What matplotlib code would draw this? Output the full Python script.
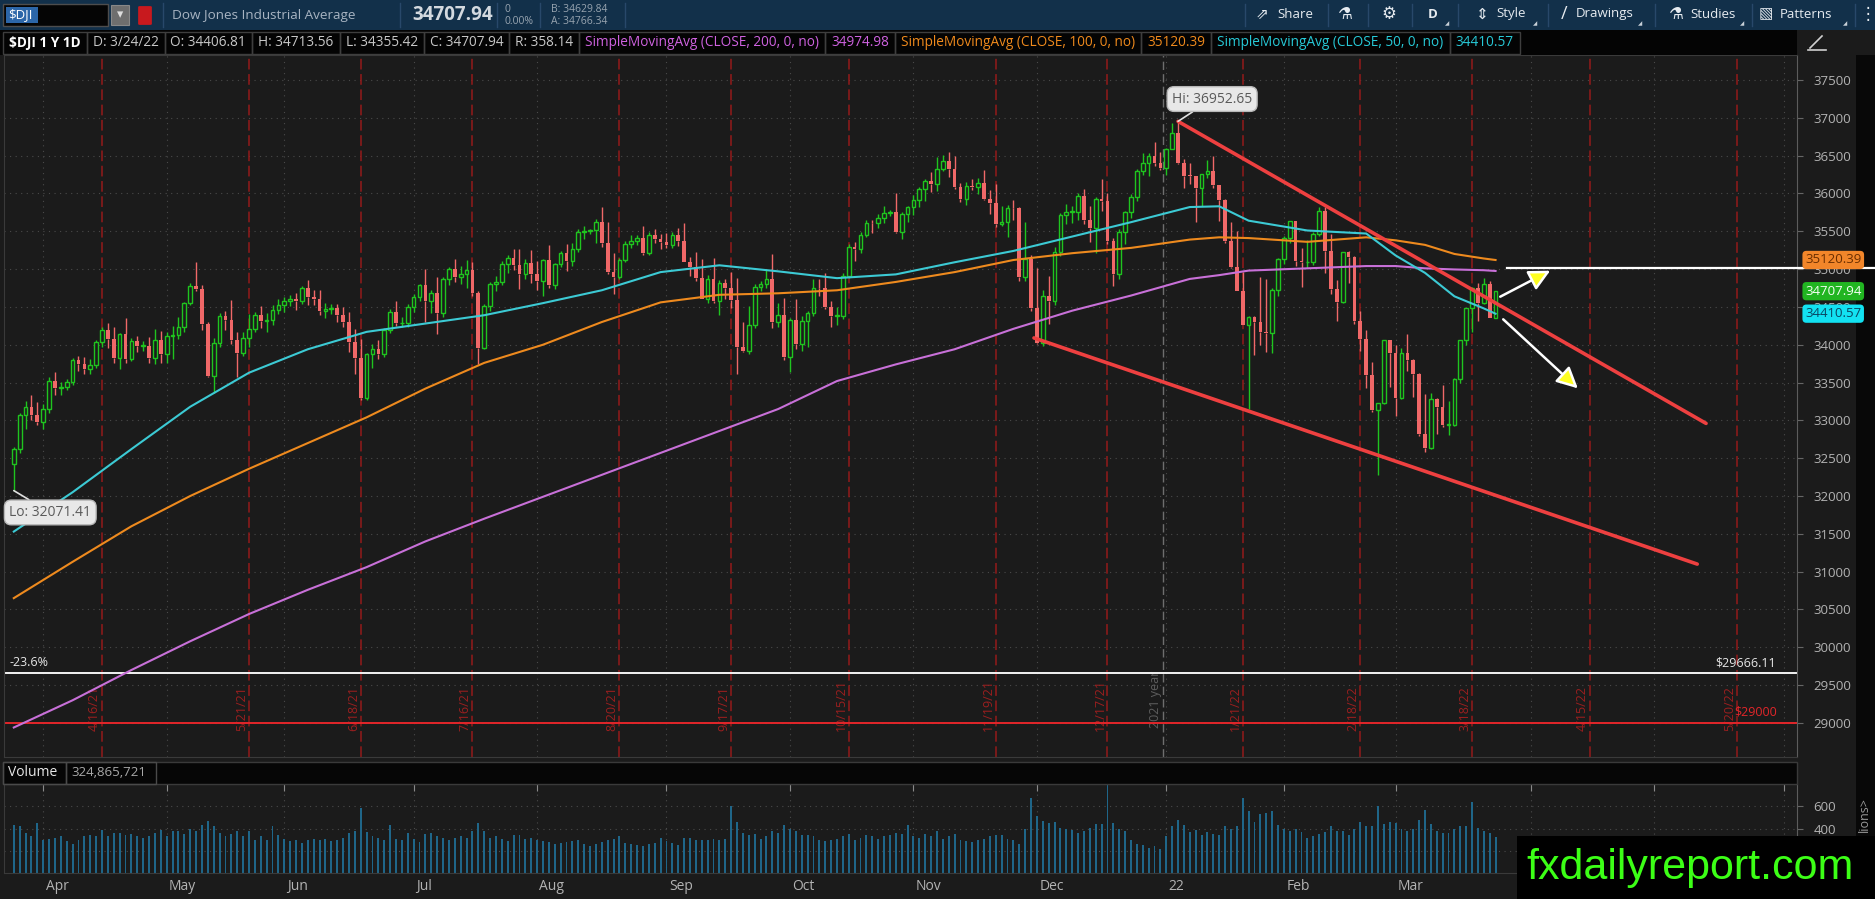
import numpy as np
import pandas as pd
import matplotlib
matplotlib.use("Agg")
import matplotlib.pyplot as plt
from matplotlib.patches import Rectangle, FancyBboxPatch
from matplotlib.lines import Line2D

plt.rcParams['font.family'] = ['Open Sans', 'DejaVu Sans']

# ---------------- data ----------------
# NYSE closures inside the window (future days are kept, like the platform does)
holidays = ['2021-04-02', '2021-05-31', '2021-07-05', '2021-09-06',
            '2021-11-25', '2021-12-24', '2022-01-17', '2022-02-21']

prev_close = 32420.06  # 3/24/21 close, used as open of the first bar

# daily closes 3/25/21 .. 3/24/22
closes = [
    32619, 33073, 33171, 33067, 32982,  # Mar
    33153, 33527, 33430, 33446, 33504, 33801, 33745, 33677, 33731, 34036, 34201,
    34078, 33821, 34137, 33816, 34043, 33982, 33985, 33820, 34060, 33875,  # Apr
    34113, 34133, 34230, 34549, 34778, 34743, 34269, 33588, 34021, 34382,
    34328, 34061, 33896, 34084, 34208, 34394, 34312, 34323, 34465, 34529,  # May
    34575, 34600, 34577, 34756, 34630, 34600, 34447, 34466, 34480, 34394, 34299,
    34034, 33823, 33290, 33877, 33946, 33874, 34197, 34434, 34283, 34292, 34503,  # Jun
    34634, 34786, 34577, 34682, 34422, 34870, 34996, 34889, 34933, 34987, 34688,
    33962, 34512, 34798, 34823, 35062, 35144, 35059, 34931, 35085, 34935,  # Jul
    34838, 35116, 34793, 35064, 35209, 35102, 35265, 35485, 35500, 35515, 35625,
    35343, 34961, 34894, 35120, 35336, 35366, 35406, 35213, 35456, 35400, 35361,  # Aug
    35313, 35444, 35369, 35100, 35031, 34879, 34608, 34870, 34578, 34814, 34751,
    34585, 33970, 33920, 34258, 34765, 34798, 34869, 34300, 34391, 33844,  # Sep
    34326, 34003, 34315, 34417, 34755, 34746, 34496, 34378, 34378, 34913, 35295,
    35259, 35457, 35609, 35603, 35677, 35741, 35757, 35491, 35730, 35820,  # Oct
    35914, 36053, 36158, 36124, 36328, 36432, 36320, 36080, 35921, 36100, 36087,
    36142, 35931, 35871, 35602, 35619, 35814, 35804, 34899, 35136, 34484,  # Nov
    34022, 34640, 34580, 35227, 35719, 35754, 35755, 35971, 35651, 35544, 35927,
    35898, 35365, 34932, 35493, 35754, 35951, 36302, 36398, 36489, 36398, 36338,  # Dec
    36585, 36800, 36407, 36236, 36232, 36069, 36252, 36290, 36114, 35912,
    35368, 35029, 34715, 34265, 34365, 34298, 34168, 34161, 34725, 35132,  # Jan
    35405, 35629, 35111, 35090, 35091, 35463, 35768, 35242, 34738, 34566,
    35229, 35161, 34312, 34079, 33597, 33132, 33224, 34059, 33893,  # Feb
    33295, 33891, 33795, 33615, 32817, 32633, 33286, 33174, 32944,
    32945, 33544, 34063, 34481, 34755, 34553, 34807, 34359, 34708,  # Mar
]

# upper / lower shadow lengths in points
wick_up = [
    30, 25, 90, 160, 170,
    60, 40, 110, 60, 40, 20, 50, 90, 80, 30, 30, 90, 150, 20, 210, 40, 70, 70, 120, 150, 120,
    50, 110, 130, 20, 40, 310, 50, 30, 70, 40, 60, 260, 110, 80, 200, 40, 120, 90, 60, 80,
    60, 60, 90, 20, 100, 90, 130, 80, 60, 60, 110, 130, 180, 250, 20, 60, 110, 30, 40, 140, 80, 30,
    30, 20, 220, 40, 210, 30, 30, 140, 110, 130, 100, 20, 30, 30, 90, 40, 40, 120, 200, 50, 170,
    170, 20, 200, 20, 30, 120, 80, 40, 70, 20, 40, 200, 280, 250, 30, 40, 90, 40, 160, 30, 80, 60,
    120, 40, 100, 240, 60, 200, 250, 50, 280, 40, 60, 210, 300, 330, 250, 40, 40, 130, 330, 160, 230,
    30, 280, 60, 30, 110, 110, 200, 80, 120, 30, 30, 60, 30, 40, 40, 50, 90, 30, 250, 30, 20,
    60, 30, 30, 130, 160, 80, 120, 170, 60, 50, 90, 60, 170, 110, 250, 210, 30, 100, 20, 480, 50,
    530, 80, 270, 60, 20, 100, 80, 30, 90, 180, 20, 260, 110, 40, 40, 20, 40, 20, 130, 50, 190, 150,
    11, 134, 153, 53, 164, 0, 4, 155, 210, 0, 20, 257, 475, 245, 13, 10, 595, 704, 30, 10,
    28, 9, 0, 173, 289, 32, 56, 55, 217, 116, 1, 15, 9, 137, 111, 173, 7, 4, 10,
    100, 72, 253, 13, 10, 527, 70, 13, 300, 316, 17, 1, 7, 5, 60, 76, 30, 6,
]
wick_dn = [
    349, 50, 190, 60, 40,
    90, 60, 90, 100, 50, 30, 90, 70, 60, 40, 60, 120, 60, 140, 60, 30, 80, 60, 60, 80, 110,
    120, 300, 60, 60, 30, 30, 70, 20, 230, 50, 130, 50, 320, 40, 110, 40, 90, 140, 60, 60,
    90, 60, 120, 40, 110, 80, 60, 90, 60, 100, 60, 130, 210, 20, 20, 180, 60, 40, 40, 30, 50, 60,
    70, 60, 280, 160, 280, 60, 80, 60, 90, 180, 40, 220, 20, 60, 90, 40, 120, 70, 200, 60, 120,
    110, 200, 40, 60, 40, 130, 60, 40, 90, 30, 170, 50, 20, 220, 20, 30, 60, 50, 30, 30, 60, 90,
    40, 40, 70, 10, 120, 30, 10, 60, 20, 180, 150, 100, 360, 20, 40, 40, 60, 50, 80, 60, 40,
    200, 60, 80, 340, 40, 100, 20, 150, 120, 40, 30, 150, 40, 30, 120, 60, 70, 40, 10, 90, 110,
    100, 90, 150, 110, 90, 30, 100, 20, 40, 80, 40, 90, 20, 140, 50, 30, 190, 160, 60, 60, 40,
    16, 40, 300, 60, 50, 120, 150, 110, 50, 190, 330, 130, 40, 160, 60, 160, 80, 50, 60, 170, 30, 30,
    92, 0, 13, 161, 104, 452, 229, 48, 40, 279, 17, 10, 10, 5, 1115, 438, 168, 254, 274, 75,
    71, 65, 68, 331, 73, 41, 20, 289, 61, 250, 20, 345, 43, 158, 165, 15, 860, 10, 450,
    239, 10, 142, 303, 22, 55, 10, 351, 36, 137, 20, 46, 63, 313, 235, 20, 5, 3,
]

# daily volume, millions
volume_m = [
    430, 420, 360, 330, 450,
    300, 310, 320, 330, 290, 260, 300, 330, 340, 330, 390, 330, 360, 360, 340, 350, 330, 320, 330, 360, 390,
    330, 380, 380, 350, 400, 380, 430, 470, 420, 360, 330, 350, 380, 330, 380, 300, 330, 300, 420, 340,
    310, 290, 300, 270, 300, 310, 300, 310, 290, 300, 320, 360, 380, 590, 370, 330, 320, 300, 430, 310, 300, 360,
    310, 280, 350, 360, 330, 320, 300, 320, 330, 320, 380, 450, 380, 320, 330, 310, 290, 340, 340, 310, 320,
    300, 290, 280, 260, 270, 280, 290, 300, 260, 240, 260, 280, 300, 310, 330, 270, 260, 250, 240, 260, 270, 320,
    290, 270, 250, 320, 320, 300, 300, 300, 310, 300, 310, 600, 460, 360, 340, 350, 310, 330, 380, 360, 430,
    400, 380, 340, 340, 330, 300, 290, 300, 310, 330, 350, 300, 320, 340, 330, 310, 330, 340, 360, 350, 430,
    330, 320, 350, 330, 380, 310, 330, 350, 300, 290, 280, 300, 310, 330, 340, 340, 310, 300, 260, 400, 680,
    510, 470, 450, 460, 410, 400, 390, 360, 380, 410, 440, 440, 790, 450, 400, 380, 300, 260, 250, 230, 240, 220,
    330, 420, 480, 430, 370, 390, 340, 370, 350, 340, 420, 400, 420, 680, 560, 460, 530, 540, 560, 430,
    400, 380, 400, 370, 320, 330, 350, 370, 420, 380, 380, 340, 400, 460, 420, 420, 606, 440, 460,
    450, 400, 380, 400, 480, 570, 440, 380, 360, 360, 400, 420, 420, 640, 410, 380, 360, 325,
]

# moving averages read at these bar numbers
ma_idx = [0, 10, 20, 30, 40, 50, 60, 70, 80, 90, 100, 110, 120, 130, 140, 150,
          160, 170, 180, 190, 200, 205, 210, 220, 230, 235, 240, 245, 250, 252]
sma50 = [31530, 32050, 32620, 33180, 33630, 33940, 34170, 34280, 34390, 34550,
         34720, 34960, 35050, 34970, 34880, 34930, 35090, 35240, 35430, 35620,
         35820, 35830, 35640, 35510, 35470, 35180, 34950, 34640, 34480, 34410]
sma100 = [30650, 31130, 31600, 32000, 32360, 32700, 33040, 33420, 33760, 34000,
          34300, 34560, 34660, 34680, 34720, 34830, 34960, 35120, 35210, 35280,
          35390, 35420, 35410, 35360, 35420, 35380, 35320, 35200, 35140, 35120]
sma200 = [28940, 29300, 29700, 30080, 30440, 30760, 31060, 31400, 31700, 31990,
          32280, 32570, 32860, 33150, 33520, 33740, 33940, 34210, 34450, 34650,
          34870, 34920, 34980, 35010, 35040, 35040, 35010, 34995, 34985, 34975]

expiries = ['2021-04-16', '2021-05-21', '2021-06-18', '2021-07-16', '2021-08-20',
            '2021-09-17', '2021-10-15', '2021-11-19', '2021-12-17', '2022-01-21',
            '2022-02-18', '2022-03-18', '2022-04-15', '2022-05-20']
expiry_labels = ['4/16/21', '5/21/21', '6/18/21', '7/16/21', '8/20/21', '9/17/21',
                 '10/15/21', '11/19/21', '12/17/21', '1/21/22', '2/18/22', '3/18/22',
                 '4/15/22', '5/20/22']
month_names = ['Apr', 'May', 'Jun', 'Jul', 'Aug', 'Sep', 'Oct', 'Nov', 'Dec', '22', 'Feb', 'Mar']

price_ticks = list(range(29000, 38000, 500))
vol_ticks = [200, 400, 600]
vol_tick_labels = ['', '400', '600']  # 200 sits under the watermark

hi_price, hi_bar = 36952.65, 198
lo_price, lo_bar = 32071.41, 0
fib_level = 29666.11
support = 29000
resistance = 35010
upper_trend_x, upper_trend_y = [198, 287.8], [36952.65, 32960]
lower_trend_x, lower_trend_y = [173.5, 286.3], [34090, 31100]
arrow_from = [(252.8, 34635), (253.3, 34336)]
arrow_to = [(261.3, 34979), (266.0, 33423)]
tags = [(35120.39, '#f2862a', '#6a2e00'), (34707.94, '#21b521', '#f4fff4'), (34410.57, '#12e2f2', '#0a4560')]

# ---------------- look ----------------
W, H = 1875, 899
BG = '#1b1b1b'
GREEN = '#1fc41f'
RED = '#f06868'
MAGENTA = '#c870d8'
ORANGE = '#ee8a1e'
CYAN = '#3ccad4'
EXPIRY = '#941a1a'
GRID = '#4a4a4a'
TICK = '#b3b3b3'
DOT = (0, (1, 4))

fig = plt.figure(figsize=(W / 100, H / 100), dpi=100, facecolor=BG)


def box(x0, y0, x1, y1, **kw):
    r = Rectangle((x0 / W, 1 - y1 / H), (x1 - x0) / W, (y1 - y0) / H,
                  transform=fig.transFigure, **kw)
    fig.patches.append(r)
    return r


def say(x, y, s, **kw):
    kw.setdefault('va', 'center')
    return fig.text(x / W, 1 - y / H, s, **kw)


def vline(xp, y0, y1, color, lw=1):
    fig.lines.append(Line2D([xp / W, xp / W], [1 - y0 / H, 1 - y1 / H],
                            transform=fig.transFigure, color=color, lw=lw))


# bar 0 sits at 13.8 px, one bar = 5.88 px; axes span 4..1797 px
x_lo, x_hi = (4 - 13.8) / 5.88, (1797 - 13.8) / 5.88

ax = fig.add_axes([4 / W, 1 - 757 / H, 1793 / W, 702 / H], facecolor=BG)
vax = fig.add_axes([4 / W, 1 - 873 / H, 1793 / W, 89 / H], facecolor=BG)

days = pd.bdate_range('2021-03-25', '2022-06-30')
days = days[~days.isin(pd.to_datetime(holidays))]
pos = pd.Series(np.arange(len(days)), index=days)
month_first = pos.groupby([days.year, days.month]).first().values[1:]
exp_pos = [pos[pd.Timestamp(d)] for d in expiries]

n = min(len(closes), len(wick_up), len(wick_dn), len(volume_m))
x = np.arange(n)
c = np.array(closes[:n], float)
o = np.r_[prev_close, c[:-1]]
top = np.maximum(o, c)
bot = np.minimum(o, c)
hi = top + np.array(wick_up[:n])
lo = bot - np.array(wick_dn[:n])
rise = c >= o
col = np.where(rise, GREEN, RED)

# ---- price panel ----
ax.set_xlim(x_lo, x_hi)
ax.set_ylim(28550, 37830)
for p in price_ticks:
    ax.axhline(p, color=GRID, ls=DOT, lw=0.8, zorder=0.5)
for m in month_first:
    if m < x_hi:
        ax.axvline(m, color=GRID, ls=DOT, lw=0.8, zorder=0.5)
        vax.axvline(m, color=GRID, ls=DOT, lw=0.8, zorder=0.5)
for p_, lab in zip(exp_pos, expiry_labels):
    ax.axvline(p_, color=EXPIRY, ls=(0, (7, 3)), lw=1.1, zorder=1)
    ax.text(p_ - 0.15, 28900, lab, rotation=90, ha='right', va='bottom',
            color='#9c1f1f', fontsize=9, zorder=1)
ax.axvline(195.5, color='#6e6e6e', ls=(0, (6, 3)), lw=1, zorder=1)
ax.text(195.35, 28930, '2021 year', rotation=90, ha='right', va='bottom',
        color='#5e5e5e', fontsize=9, zorder=1)

ax.axhline(fib_level, color='#f2f2f2', lw=1.4, zorder=2)
ax.axhline(support, color='#e3262a', lw=1.4, zorder=2)
ax.text(-0.65, 29793, '-23.6%', color='#e6e6e6', fontsize=9, ha='left', va='center')
ax.text(299.7, 29793, '$29666.11', color='#e6e6e6', fontsize=9, ha='right', va='center')
ax.text(299.9, 29150, '$29000', color='#e3262a', fontsize=9, ha='right', va='center')

ax.vlines(x, top, hi, colors=col, lw=1, zorder=3)
ax.vlines(x, lo, bot, colors=col, lw=1, zorder=3)
body = np.maximum(top - bot, 10)
ax.bar(x[rise], body[rise], bottom=bot[rise], width=0.62, facecolor=BG,
       edgecolor=GREEN, lw=1, zorder=3)
ax.bar(x[~rise], body[~rise], bottom=bot[~rise], width=0.62, color=RED, lw=0, zorder=3)

ax.plot(ma_idx, sma200, color=MAGENTA, lw=1.5, zorder=4)
ax.plot(ma_idx, sma100, color=ORANGE, lw=1.5, zorder=4)
ax.plot(ma_idx, sma50, color=CYAN, lw=1.5, zorder=4)

ax.plot(upper_trend_x, upper_trend_y, color='#ee4040', lw=2.6, zorder=5, solid_capstyle='round')
ax.plot(lower_trend_x, lower_trend_y, color='#ee4040', lw=2.6, zorder=5, solid_capstyle='round')
ax.plot([253.9, 317], [resistance, resistance], color='white', lw=1.6, zorder=6, clip_on=False)
for a, b in zip(arrow_from, arrow_to):
    ax.annotate('', xy=b, xytext=a, zorder=7,
                arrowprops=dict(arrowstyle='-|>,head_length=0.8,head_width=0.4',
                                fc='#ffff20', ec='white', lw=1.8, mutation_scale=16,
                                shrinkA=0, shrinkB=0))

bub = dict(boxstyle='round,pad=0.35,rounding_size=0.5', fc='#e8e8e8', ec='#b8b8b8', lw=1)
ax.annotate('Hi: 36952.65', xy=(hi_bar, hi_price), xytext=(203.8, 37248), ha='center',
            va='center', fontsize=10, color='#5a5a5a', bbox=bub, zorder=8,
            arrowprops=dict(arrowstyle='-', color='#e0e0e0', lw=1.2, shrinkA=0, shrinkB=0))
ax.annotate('Lo: 32071.41', xy=(lo_bar, lo_price), xytext=(6.2, 31783), ha='center',
            va='center', fontsize=10, color='#5a5a5a', bbox=bub, zorder=8,
            arrowprops=dict(arrowstyle='-', color='#e0e0e0', lw=1.2, shrinkA=0, shrinkB=0))

ax.yaxis.tick_right()
ax.set_yticks(price_ticks)
ax.set_yticklabels([str(p) for p in price_ticks])
ax.tick_params(axis='y', colors=TICK, labelsize=9.5, length=4, pad=8)
ax.tick_params(axis='y', color='#666666')
ax.set_xticks([])
for s in ax.spines.values():
    s.set_color('#3a3a3a')
ax.spines['right'].set_color('#5c5c5c')

ytr = ax.get_yaxis_transform()
for val, fc, tc in tags:
    ax.text(1.0045, val, f'{val:.2f}', transform=ytr, ha='left', va='center', fontsize=9.5,
            color=tc, zorder=9, clip_on=False,
            bbox=dict(boxstyle='round,pad=0.2,rounding_size=0.3', fc=fc, ec='none'))

# ---- volume panel ----
vax.set_xlim(x_lo, x_hi)
vax.set_ylim(0, 803)
for v in vol_ticks:
    vax.axhline(v, color=GRID, ls=DOT, lw=0.8, zorder=0.5)
vax.bar(x, volume_m[:n], width=0.32, color='#1f6689', zorder=2)
vax.yaxis.tick_right()
vax.set_yticks(vol_ticks)
vax.set_yticklabels(vol_tick_labels)
vax.tick_params(axis='y', colors=TICK, labelsize=9.5, length=4, pad=8)
vax.tick_params(axis='y', color='#666666')
vax.xaxis.set_ticks_position('top')
vax.set_xticks([m for m in month_first if m < x_hi])
vax.tick_params(axis='x', direction='in', length=5, color='#8a8a8a', labeltop=False, labelbottom=False)
for s in vax.spines.values():
    s.set_color('#3a3a3a')
vax.spines['right'].set_color('#5c5c5c')
xtr = vax.get_xaxis_transform()
for m, name in zip(month_first, month_names):
    vax.text(m + 0.4, -0.15, name, transform=xtr, ha='left', va='center',
             color=TICK, fontsize=10, clip_on=False)

# ---- frame pieces ----
box(1856, 55, 1875, 899, fc='#080808', ec='none', zorder=-1)
say(1864, 815, 'lions>', rotation=90, ha='center', color='#9a9a9a', fontsize=9, zorder=5)
box(3, 762, 1797, 784, fc='#060606', ec='#3a3a3a', lw=1)
box(3, 762, 66, 784, fc='none', ec='#4a4a4a', lw=1)
say(8, 773, 'Volume', color='#e8e8e8', fontsize=10)
box(66, 762, 156, 784, fc='none', ec='#4a4a4a', lw=1)
say(71, 773, '324,865,721', color='#a8a8a8', fontsize=9.5)

# top bar
box(0, 0, W, 30, fc='#12304a', ec='none')
box(3, 4, 108, 26, fc='#050505', ec='#4d4d4d', lw=1)
box(6, 7, 38, 23, fc='#2c66a8', ec='none')
say(8, 15, '$DJI', color='white', fontsize=9.5)
box(111, 5, 129, 25, fc='#6e6e6e', ec='#888888', lw=0.8)
say(120, 15, '▾', color='#dddddd', fontsize=9, ha='center', family=['DejaVu Sans'])
fig.patches.append(FancyBboxPatch((140 / W, 1 - 24 / H), 10 / W, 17 / H,
                                  boxstyle='round,pad=0.001', transform=fig.transFigure,
                                  fc='#c8191e', ec='none'))
for sx in [163, 400, 497, 540, 625]:
    vline(sx, 3, 27, '#28486a')
say(172, 15, 'Dow Jones Industrial Average', color='#a8b4c2', fontsize=9.7)
say(412, 15, '34707.94', color='#d3d9df', fontsize=13.5, fontweight='bold')
say(505, 9, '0', color='#98a4b0', fontsize=7.5)
say(505, 21, '0.00%', color='#98a4b0', fontsize=7.5)
say(551, 9, 'B: 34629.84', color='#98a4b0', fontsize=7.5)
say(551, 21, 'A: 34766.34', color='#98a4b0', fontsize=7.5)

icons = ['DejaVu Sans']
say(1262, 14, '⇗', color='#e6ebf0', fontsize=11, ha='center', family=icons)
say(1277, 14, 'Share', color='#e6ebf0', fontsize=9.5)
say(1345, 14, '⚗', color='#e6ebf0', fontsize=12, ha='center', family=icons)
say(1389, 14, '⚙', color='#e6ebf0', fontsize=12, ha='center', family=icons)
say(1433, 14, 'D', color='#e6ebf0', fontsize=9.5, ha='center', fontweight='bold')
say(1482, 14, '⇕', color='#e6ebf0', fontsize=11, ha='center', family=icons)
say(1496, 14, 'Style', color='#e6ebf0', fontsize=9.5)
say(1564, 14, '/', color='#e6ebf0', fontsize=13, ha='center')
say(1576, 14, 'Drawings', color='#e6ebf0', fontsize=9.5)
say(1676, 14, '⚗', color='#e6ebf0', fontsize=12, ha='center', family=icons)
say(1690, 14, 'Studies', color='#e6ebf0', fontsize=9.5)
say(1766, 14, '▧', color='#e6ebf0', fontsize=11, ha='center', family=icons)
say(1780, 14, 'Patterns', color='#e6ebf0', fontsize=9.5)
say(1868, 14, '⋮', color='#e6ebf0', fontsize=12, ha='center', family=icons)
for tx in [1447, 1535, 1640, 1742, 1845]:
    say(tx, 24, '◢', color='#c8d0d8', fontsize=4, ha='center', family=icons)
for sx in [1245, 1328, 1368, 1412, 1458, 1548, 1655, 1752, 1855]:
    vline(sx, 4, 26, '#28486a')

# study header row
box(0, 30, 1797, 55, fc='#040404', ec='none')
row2 = [('$DJI 1 Y 1D', '#ffffff', True), ('D: 3/24/22', '#c8c8c8', False),
        ('O: 34406.81', '#c8c8c8', False), ('H: 34713.56', '#c8c8c8', False),
        ('L: 34355.42', '#c8c8c8', False), ('C: 34707.94', '#c8c8c8', False),
        ('R: 358.14', '#c8c8c8', False),
        ('SimpleMovingAvg (CLOSE, 200, 0, no)', '#cf62e0', False), ('34974.98', '#cf62e0', False),
        ('SimpleMovingAvg (CLOSE, 100, 0, no)', '#f08a1c', False), ('35120.39', '#f08a1c', False),
        ('SimpleMovingAvg (CLOSE, 50, 0, no)', '#27cad8', False), ('34410.57', '#27cad8', False)]
rend = fig.canvas.get_renderer()
xc = 3
for s, colr, bold in row2:
    t = say(xc + 6, 43, s, color=colr, fontsize=9.8, fontweight='bold' if bold else 'normal')
    bb = t.get_window_extent(renderer=rend)
    x_end = bb.x1 + 6
    box(xc, 32, x_end, 54, fc='none', ec='#3e3e3e', lw=1)
    xc = x_end

# small chart-settings glyph above the price scale
fig.lines.append(Line2D([1810 / W, 1822 / W], [1 - 48 / H, 1 - 36 / H], transform=fig.transFigure,
                        color='#d0d0d0', lw=1.2))
fig.lines.append(Line2D([1808 / W, 1826 / W], [1 - 50 / H, 1 - 50 / H], transform=fig.transFigure,
                        color='#d0d0d0', lw=1.2))

# watermark
box(1517, 836, 1875, 899, fc='black', ec='none', zorder=20)
say(1690, 868, 'fxdailyreport.com', color='#3cff16', fontsize=31, ha='center', zorder=21,
    family=['Liberation Sans Narrow', 'Liberation Sans', 'DejaVu Sans'])

fig.savefig('out.png', dpi=100, facecolor=fig.get_facecolor())
